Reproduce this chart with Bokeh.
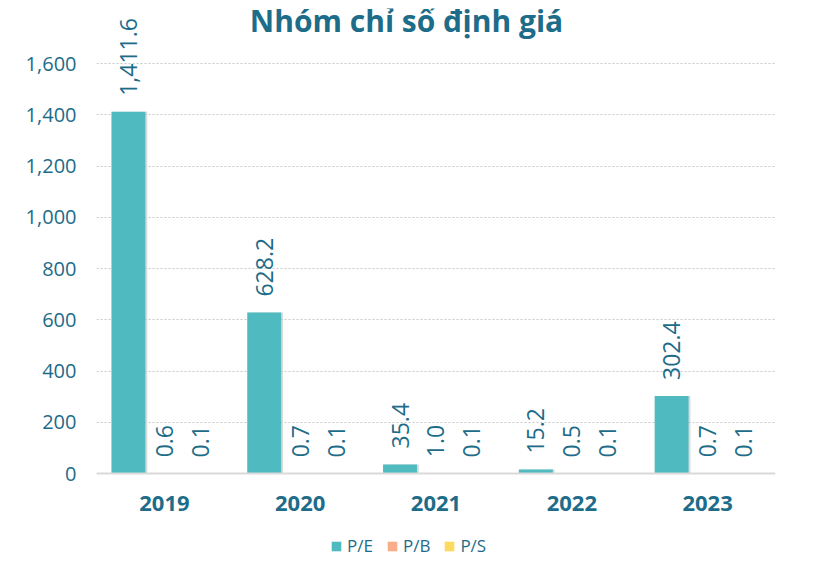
import math
from bokeh.plotting import figure
from bokeh.models import (ColumnDataSource, FactorRange, Range1d, FixedTicker,
                          NumeralTickFormatter, LabelSet, Legend, LegendItem, Label, Span)
from bokeh.transform import dodge
from bokeh.core.properties import value
from bokeh.embed import file_html
from bokeh.resources import INLINE

# ---- data ----
years = ["2019", "2020", "2021", "2022", "2023"]
pe = [1411.6, 628.2, 35.4, 15.2, 302.4]
pb = [0.6, 0.7, 1.0, 0.5, 0.7]
ps = [0.1, 0.1, 0.1, 0.1, 0.1]
series_names = ["P/E", "P/B", "P/S"]
y_ticks = [0, 200, 400, 600, 800, 1000, 1200, 1400, 1600]
title_text = "Nhóm chỉ số định giá"

colors = ["#4fbbc0", "#f9ad8a", "#fdd95e"]
text_color = "#1d6c89"
font = "Open Sans"

src = ColumnDataSource(dict(
    year=years, pe=pe, pb=pb, ps=ps,
    zero=[0] * len(years),
    pe_lbl=[f"{v:,.1f}" for v in pe],
    pb_lbl=[f"{v:,.1f}" for v in pb],
    ps_lbl=[f"{v:,.1f}" for v in ps],
))

PX_PER_UNIT = 410 / 1600.0
ABOVE_PX = 465      # frame top to zero line
BELOW_PX = 86       # zero line to frame bottom
FRAME_H = ABOVE_PX + BELOW_PX
y_end = ABOVE_PX / PX_PER_UNIT
y_start = -BELOW_PX / PX_PER_UNIT

p = figure(frame_width=679, frame_height=FRAME_H, x_range=FactorRange(*years),
           y_range=Range1d(y_start, y_end), output_backend="svg",
           toolbar_location=None, x_axis_location=None,
           min_border_left=96, min_border_right=43,
           min_border_top=8, min_border_bottom=0)
p.outline_line_color = None
p.background_fill_color = "white"
p.border_fill_color = "white"
p.xgrid.grid_line_color = None
p.xgrid.visible = False

offs = [-0.265, 0.0, 0.265]
keys = ["pe", "pb", "ps"]
renderers = []
for k, off, c in zip(keys, offs, colors):
    # subtle shadow
    p.vbar(x=dodge("year", off + 0.014, range=p.x_range), top=k, width=0.25,
           bottom=0, source=src, fill_color="#bdbdbd", line_color=None, fill_alpha=0.55)
    r = p.vbar(x=dodge("year", off, range=p.x_range), top=k, width=0.25,
               bottom=0, source=src, fill_color=c, line_color=None)
    renderers.append(r)
    lbl = LabelSet(x=dodge("year", off, range=p.x_range), y=k, text=k + "_lbl",
                   source=src, angle=math.pi / 2, text_align="left",
                   text_baseline="middle", y_offset=16,
                   text_font=value(font), text_font_size="23px",
                   text_color=text_color)
    p.add_layout(lbl)

# zero line (category axis line)
p.add_layout(Span(location=0, dimension="width", line_color="#d9d9d9", line_width=2))

# category labels
p.add_layout(LabelSet(x="year", y="zero", text="year", source=src,
                      text_align="center", text_baseline="middle", y_offset=-30,
                      text_font=value(font), text_font_size="22px",
                      text_font_style="bold", text_color=text_color))

# y axis
p.yaxis.ticker = FixedTicker(ticks=y_ticks)
p.yaxis.formatter = NumeralTickFormatter(format="0,0")
p.yaxis.axis_line_color = None
p.yaxis.major_tick_line_color = None
p.yaxis.minor_tick_line_color = None
p.yaxis.major_label_text_font = font
p.yaxis.major_label_text_font_size = "20px"
p.yaxis.major_label_text_color = text_color
p.yaxis.major_label_standoff = 14

p.ygrid.grid_line_color = "#c8c8c8"
p.ygrid.grid_line_dash = "2 2"
p.ygrid.grid_line_width = 1
p.ygrid.ticker = FixedTicker(ticks=y_ticks)

# title
p.add_layout(Label(x=310, y=FRAME_H - 12, x_units="screen", y_units="screen",
                   text=title_text, text_align="center", text_baseline="alphabetic",
                   text_font=font, text_font_size="30px",
                   text_font_style="bold", text_color=text_color))

legend = Legend(items=[LegendItem(label=n, renderers=[r]) for n, r in zip(series_names, renderers)],
                orientation="horizontal", location=(234, 2),
                label_text_font=font, label_text_font_size="17px",
                label_text_color=text_color, glyph_width=12, glyph_height=12,
                spacing=13, label_standoff=5, border_line_color=None,
                background_fill_alpha=0, margin=0, padding=0)
p.add_layout(legend)

open("out.html", "w").write(file_html(p, INLINE))
